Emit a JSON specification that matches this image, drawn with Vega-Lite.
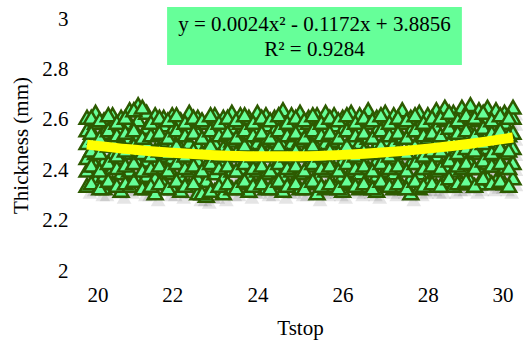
{
"$schema":"https://vega.github.io/schema/vega-lite/v6.json",
"width":426,"height":252,
"autosize":{"type":"none"},
"padding":{"left":87,"top":19,"right":10,"bottom":74},
"background":"white",
"config":{"view":{"stroke":null},"font":"Liberation Serif",
"axis":{"domain":false,"ticks":false,"tickSize":0,"grid":false,"labelFont":"Liberation Serif","titleFont":"Liberation Serif","labelFontSize":21,"titleFontSize":21,"labelColor":"#000","titleColor":"#000","titleFontWeight":"normal"},
"axisX":{"labelFont":"Liberation Serif","titleFont":"Liberation Serif"},
"axisY":{"labelFont":"Liberation Serif","titleFont":"Liberation Serif"}},
"datasets":{
"pts":[
{"x":20.0,"y":2.34},{"x":20.0,"y":2.40},{"x":20.0,"y":2.45},{"x":20.0,"y":2.51},{"x":20.0,"y":2.56},{"x":20.0,"y":2.61},
{"x":20.2,"y":2.36},{"x":20.2,"y":2.42},{"x":20.2,"y":2.47},{"x":20.2,"y":2.53},{"x":20.2,"y":2.59},{"x":20.2,"y":2.63},
{"x":20.4,"y":2.33},{"x":20.4,"y":2.38},{"x":20.4,"y":2.44},{"x":20.4,"y":2.50},{"x":20.4,"y":2.55},{"x":20.4,"y":2.60},
{"x":20.6,"y":2.35},{"x":20.6,"y":2.41},{"x":20.6,"y":2.46},{"x":20.6,"y":2.52},{"x":20.6,"y":2.58},{"x":20.6,"y":2.62},
{"x":20.8,"y":2.32},{"x":20.8,"y":2.39},{"x":20.8,"y":2.45},{"x":20.8,"y":2.49},{"x":20.8,"y":2.57},{"x":20.8,"y":2.61},
{"x":21.0,"y":2.34},{"x":21.0,"y":2.40},{"x":21.0,"y":2.47},{"x":21.0,"y":2.53},{"x":21.0,"y":2.59},{"x":21.0,"y":2.64},
{"x":21.2,"y":2.36},{"x":21.2,"y":2.43},{"x":21.2,"y":2.48},{"x":21.2,"y":2.54},{"x":21.2,"y":2.60},{"x":21.2,"y":2.66},
{"x":21.4,"y":2.33},{"x":21.4,"y":2.38},{"x":21.4,"y":2.44},{"x":21.4,"y":2.51},{"x":21.4,"y":2.57},{"x":21.4,"y":2.63},
{"x":21.6,"y":2.31},{"x":21.6,"y":2.37},{"x":21.6,"y":2.42},{"x":21.6,"y":2.48},{"x":21.6,"y":2.55},{"x":21.6,"y":2.62},
{"x":21.8,"y":2.35},{"x":21.8,"y":2.41},{"x":21.8,"y":2.46},{"x":21.8,"y":2.52},{"x":21.8,"y":2.58},{"x":21.8,"y":2.61},
{"x":22.0,"y":2.33},{"x":22.0,"y":2.39},{"x":22.0,"y":2.45},{"x":22.0,"y":2.50},{"x":22.0,"y":2.56},{"x":22.0,"y":2.62},
{"x":22.2,"y":2.32},{"x":22.2,"y":2.38},{"x":22.2,"y":2.43},{"x":22.2,"y":2.49},{"x":22.2,"y":2.54},{"x":22.2,"y":2.60},
{"x":22.4,"y":2.34},{"x":22.4,"y":2.40},{"x":22.4,"y":2.46},{"x":22.4,"y":2.51},{"x":22.4,"y":2.57},{"x":22.4,"y":2.63},
{"x":22.6,"y":2.31},{"x":22.6,"y":2.37},{"x":22.6,"y":2.44},{"x":22.6,"y":2.50},{"x":22.6,"y":2.55},{"x":22.6,"y":2.61},
{"x":22.8,"y":2.30},{"x":22.8,"y":2.36},{"x":22.8,"y":2.42},{"x":22.8,"y":2.48},{"x":22.8,"y":2.53},{"x":22.8,"y":2.59},
{"x":23.0,"y":2.32},{"x":23.0,"y":2.39},{"x":23.0,"y":2.45},{"x":23.0,"y":2.51},{"x":23.0,"y":2.58},{"x":23.0,"y":2.62},
{"x":23.2,"y":2.31},{"x":23.2,"y":2.37},{"x":23.2,"y":2.43},{"x":23.2,"y":2.49},{"x":23.2,"y":2.56},{"x":23.2,"y":2.61},
{"x":23.4,"y":2.33},{"x":23.4,"y":2.40},{"x":23.4,"y":2.46},{"x":23.4,"y":2.52},{"x":23.4,"y":2.57},{"x":23.4,"y":2.63},
{"x":23.6,"y":2.35},{"x":23.6,"y":2.41},{"x":23.6,"y":2.47},{"x":23.6,"y":2.53},{"x":23.6,"y":2.59},{"x":23.6,"y":2.62},
{"x":23.8,"y":2.32},{"x":23.8,"y":2.38},{"x":23.8,"y":2.44},{"x":23.8,"y":2.50},{"x":23.8,"y":2.55},{"x":23.8,"y":2.61},
{"x":24.0,"y":2.34},{"x":24.0,"y":2.40},{"x":24.0,"y":2.45},{"x":24.0,"y":2.51},{"x":24.0,"y":2.57},{"x":24.0,"y":2.63},
{"x":24.2,"y":2.33},{"x":24.2,"y":2.39},{"x":24.2,"y":2.46},{"x":24.2,"y":2.52},{"x":24.2,"y":2.58},{"x":24.2,"y":2.62},
{"x":24.4,"y":2.35},{"x":24.4,"y":2.41},{"x":24.4,"y":2.47},{"x":24.4,"y":2.52},{"x":24.4,"y":2.56},{"x":24.4,"y":2.61},
{"x":24.6,"y":2.32},{"x":24.6,"y":2.38},{"x":24.6,"y":2.44},{"x":24.6,"y":2.50},{"x":24.6,"y":2.57},{"x":24.6,"y":2.64},
{"x":24.8,"y":2.34},{"x":24.8,"y":2.40},{"x":24.8,"y":2.45},{"x":24.8,"y":2.51},{"x":24.8,"y":2.58},{"x":24.8,"y":2.62},
{"x":25.0,"y":2.33},{"x":25.0,"y":2.39},{"x":25.0,"y":2.46},{"x":25.0,"y":2.52},{"x":25.0,"y":2.57},{"x":25.0,"y":2.63},
{"x":25.2,"y":2.35},{"x":25.2,"y":2.42},{"x":25.2,"y":2.47},{"x":25.2,"y":2.53},{"x":25.2,"y":2.59},{"x":25.2,"y":2.61},
{"x":25.4,"y":2.31},{"x":25.4,"y":2.37},{"x":25.4,"y":2.43},{"x":25.4,"y":2.49},{"x":25.4,"y":2.55},{"x":25.4,"y":2.62},
{"x":25.6,"y":2.33},{"x":25.6,"y":2.40},{"x":25.6,"y":2.45},{"x":25.6,"y":2.51},{"x":25.6,"y":2.57},{"x":25.6,"y":2.63},
{"x":25.8,"y":2.34},{"x":25.8,"y":2.41},{"x":25.8,"y":2.47},{"x":25.8,"y":2.52},{"x":25.8,"y":2.58},{"x":25.8,"y":2.62},
{"x":26.0,"y":2.32},{"x":26.0,"y":2.38},{"x":26.0,"y":2.44},{"x":26.0,"y":2.50},{"x":26.0,"y":2.56},{"x":26.0,"y":2.61},
{"x":26.2,"y":2.35},{"x":26.2,"y":2.40},{"x":26.2,"y":2.46},{"x":26.2,"y":2.52},{"x":26.2,"y":2.58},{"x":26.2,"y":2.63},
{"x":26.4,"y":2.33},{"x":26.4,"y":2.39},{"x":26.4,"y":2.45},{"x":26.4,"y":2.51},{"x":26.4,"y":2.57},{"x":26.4,"y":2.62},
{"x":26.6,"y":2.34},{"x":26.6,"y":2.41},{"x":26.6,"y":2.47},{"x":26.6,"y":2.53},{"x":26.6,"y":2.59},{"x":26.6,"y":2.64},
{"x":26.8,"y":2.32},{"x":26.8,"y":2.38},{"x":26.8,"y":2.44},{"x":26.8,"y":2.50},{"x":26.8,"y":2.56},{"x":26.8,"y":2.61},
{"x":27.0,"y":2.35},{"x":27.0,"y":2.40},{"x":27.0,"y":2.46},{"x":27.0,"y":2.52},{"x":27.0,"y":2.58},{"x":27.0,"y":2.63},
{"x":27.2,"y":2.33},{"x":27.2,"y":2.39},{"x":27.2,"y":2.45},{"x":27.2,"y":2.51},{"x":27.2,"y":2.57},{"x":27.2,"y":2.62},
{"x":27.4,"y":2.34},{"x":27.4,"y":2.41},{"x":27.4,"y":2.47},{"x":27.4,"y":2.53},{"x":27.4,"y":2.59},{"x":27.4,"y":2.64},
{"x":27.6,"y":2.31},{"x":27.6,"y":2.37},{"x":27.6,"y":2.43},{"x":27.6,"y":2.50},{"x":27.6,"y":2.56},{"x":27.6,"y":2.61},
{"x":27.8,"y":2.33},{"x":27.8,"y":2.39},{"x":27.8,"y":2.46},{"x":27.8,"y":2.52},{"x":27.8,"y":2.58},{"x":27.8,"y":2.63},
{"x":28.0,"y":2.35},{"x":28.0,"y":2.41},{"x":28.0,"y":2.47},{"x":28.0,"y":2.53},{"x":28.0,"y":2.59},{"x":28.0,"y":2.62},
{"x":28.2,"y":2.34},{"x":28.2,"y":2.40},{"x":28.2,"y":2.46},{"x":28.2,"y":2.51},{"x":28.2,"y":2.57},{"x":28.2,"y":2.64},
{"x":28.4,"y":2.36},{"x":28.4,"y":2.42},{"x":28.4,"y":2.48},{"x":28.4,"y":2.54},{"x":28.4,"y":2.60},{"x":28.4,"y":2.65},
{"x":28.6,"y":2.34},{"x":28.6,"y":2.40},{"x":28.6,"y":2.46},{"x":28.6,"y":2.52},{"x":28.6,"y":2.58},{"x":28.6,"y":2.63},
{"x":28.8,"y":2.35},{"x":28.8,"y":2.41},{"x":28.8,"y":2.47},{"x":28.8,"y":2.53},{"x":28.8,"y":2.59},{"x":28.8,"y":2.65},
{"x":29.0,"y":2.36},{"x":29.0,"y":2.43},{"x":29.0,"y":2.49},{"x":29.0,"y":2.55},{"x":29.0,"y":2.61},{"x":29.0,"y":2.66},
{"x":29.2,"y":2.35},{"x":29.2,"y":2.41},{"x":29.2,"y":2.47},{"x":29.2,"y":2.53},{"x":29.2,"y":2.60},{"x":29.2,"y":2.64},
{"x":29.4,"y":2.37},{"x":29.4,"y":2.43},{"x":29.4,"y":2.49},{"x":29.4,"y":2.55},{"x":29.4,"y":2.61},{"x":29.4,"y":2.65},
{"x":29.6,"y":2.36},{"x":29.6,"y":2.42},{"x":29.6,"y":2.48},{"x":29.6,"y":2.54},{"x":29.6,"y":2.60},{"x":29.6,"y":2.64},
{"x":29.8,"y":2.35},{"x":29.8,"y":2.41},{"x":29.8,"y":2.47},{"x":29.8,"y":2.53},{"x":29.8,"y":2.59},{"x":29.8,"y":2.63},
{"x":30.0,"y":2.37},{"x":30.0,"y":2.43},{"x":30.0,"y":2.49},{"x":30.0,"y":2.55},{"x":30.0,"y":2.61},{"x":30.0,"y":2.65},
{"x":20.1,"y":2.35},{"x":20.1,"y":2.42},{"x":20.1,"y":2.48},{"x":20.1,"y":2.55},{"x":20.1,"y":2.61},
{"x":20.3,"y":2.33},{"x":20.3,"y":2.40},{"x":20.3,"y":2.47},{"x":20.3,"y":2.53},{"x":20.3,"y":2.60},
{"x":20.5,"y":2.36},{"x":20.5,"y":2.43},{"x":20.5,"y":2.50},{"x":20.5,"y":2.56},{"x":20.5,"y":2.62},
{"x":20.7,"y":2.34},{"x":20.7,"y":2.41},{"x":20.7,"y":2.46},{"x":20.7,"y":2.54},{"x":20.7,"y":2.59},
{"x":20.9,"y":2.35},{"x":20.9,"y":2.42},{"x":20.9,"y":2.48},{"x":20.9,"y":2.55},{"x":20.9,"y":2.61},
{"x":21.1,"y":2.36},{"x":21.1,"y":2.43},{"x":21.1,"y":2.50},{"x":21.1,"y":2.56},{"x":21.1,"y":2.64},
{"x":21.3,"y":2.33},{"x":21.3,"y":2.40},{"x":21.3,"y":2.47},{"x":21.3,"y":2.53},{"x":21.3,"y":2.65},
{"x":21.5,"y":2.34},{"x":21.5,"y":2.41},{"x":21.5,"y":2.46},{"x":21.5,"y":2.54},{"x":21.5,"y":2.59},
{"x":21.7,"y":2.35},{"x":21.7,"y":2.42},{"x":21.7,"y":2.48},{"x":21.7,"y":2.55},{"x":21.7,"y":2.61},
{"x":21.9,"y":2.33},{"x":21.9,"y":2.40},{"x":21.9,"y":2.47},{"x":21.9,"y":2.53},{"x":21.9,"y":2.60},
{"x":22.1,"y":2.36},{"x":22.1,"y":2.43},{"x":22.1,"y":2.50},{"x":22.1,"y":2.56},{"x":22.1,"y":2.62},
{"x":22.3,"y":2.34},{"x":22.3,"y":2.41},{"x":22.3,"y":2.46},{"x":22.3,"y":2.54},{"x":22.3,"y":2.59},
{"x":22.5,"y":2.35},{"x":22.5,"y":2.42},{"x":22.5,"y":2.48},{"x":22.5,"y":2.55},{"x":22.5,"y":2.61},
{"x":22.7,"y":2.31},{"x":22.7,"y":2.40},{"x":22.7,"y":2.47},{"x":22.7,"y":2.53},{"x":22.7,"y":2.60},
{"x":22.9,"y":2.32},{"x":22.9,"y":2.43},{"x":22.9,"y":2.50},{"x":22.9,"y":2.56},{"x":22.9,"y":2.62},
{"x":23.1,"y":2.34},{"x":23.1,"y":2.41},{"x":23.1,"y":2.46},{"x":23.1,"y":2.54},{"x":23.1,"y":2.59},
{"x":23.3,"y":2.35},{"x":23.3,"y":2.42},{"x":23.3,"y":2.48},{"x":23.3,"y":2.55},{"x":23.3,"y":2.61},
{"x":23.5,"y":2.33},{"x":23.5,"y":2.40},{"x":23.5,"y":2.47},{"x":23.5,"y":2.53},{"x":23.5,"y":2.60},
{"x":23.7,"y":2.36},{"x":23.7,"y":2.43},{"x":23.7,"y":2.50},{"x":23.7,"y":2.56},{"x":23.7,"y":2.62},
{"x":23.9,"y":2.34},{"x":23.9,"y":2.41},{"x":23.9,"y":2.46},{"x":23.9,"y":2.54},{"x":23.9,"y":2.59},
{"x":24.1,"y":2.35},{"x":24.1,"y":2.42},{"x":24.1,"y":2.48},{"x":24.1,"y":2.55},{"x":24.1,"y":2.61},
{"x":24.3,"y":2.33},{"x":24.3,"y":2.40},{"x":24.3,"y":2.47},{"x":24.3,"y":2.53},{"x":24.3,"y":2.60},
{"x":24.5,"y":2.36},{"x":24.5,"y":2.43},{"x":24.5,"y":2.50},{"x":24.5,"y":2.56},{"x":24.5,"y":2.62},
{"x":24.7,"y":2.34},{"x":24.7,"y":2.41},{"x":24.7,"y":2.46},{"x":24.7,"y":2.54},{"x":24.7,"y":2.59},
{"x":24.9,"y":2.35},{"x":24.9,"y":2.42},{"x":24.9,"y":2.48},{"x":24.9,"y":2.55},{"x":24.9,"y":2.61},
{"x":25.1,"y":2.33},{"x":25.1,"y":2.40},{"x":25.1,"y":2.47},{"x":25.1,"y":2.53},{"x":25.1,"y":2.60},
{"x":25.3,"y":2.36},{"x":25.3,"y":2.43},{"x":25.3,"y":2.50},{"x":25.3,"y":2.56},{"x":25.3,"y":2.62},
{"x":25.5,"y":2.34},{"x":25.5,"y":2.41},{"x":25.5,"y":2.46},{"x":25.5,"y":2.54},{"x":25.5,"y":2.59},
{"x":25.7,"y":2.35},{"x":25.7,"y":2.42},{"x":25.7,"y":2.48},{"x":25.7,"y":2.55},{"x":25.7,"y":2.61},
{"x":25.9,"y":2.33},{"x":25.9,"y":2.40},{"x":25.9,"y":2.47},{"x":25.9,"y":2.53},{"x":25.9,"y":2.60},
{"x":26.1,"y":2.36},{"x":26.1,"y":2.43},{"x":26.1,"y":2.50},{"x":26.1,"y":2.56},{"x":26.1,"y":2.62},
{"x":26.3,"y":2.34},{"x":26.3,"y":2.41},{"x":26.3,"y":2.46},{"x":26.3,"y":2.54},{"x":26.3,"y":2.59},
{"x":26.5,"y":2.35},{"x":26.5,"y":2.42},{"x":26.5,"y":2.48},{"x":26.5,"y":2.55},{"x":26.5,"y":2.61},
{"x":26.7,"y":2.33},{"x":26.7,"y":2.40},{"x":26.7,"y":2.47},{"x":26.7,"y":2.53},{"x":26.7,"y":2.60},
{"x":26.9,"y":2.36},{"x":26.9,"y":2.43},{"x":26.9,"y":2.50},{"x":26.9,"y":2.56},{"x":26.9,"y":2.62},
{"x":27.1,"y":2.34},{"x":27.1,"y":2.41},{"x":27.1,"y":2.46},{"x":27.1,"y":2.54},{"x":27.1,"y":2.59},
{"x":27.3,"y":2.35},{"x":27.3,"y":2.42},{"x":27.3,"y":2.48},{"x":27.3,"y":2.55},{"x":27.3,"y":2.61},
{"x":27.5,"y":2.33},{"x":27.5,"y":2.40},{"x":27.5,"y":2.47},{"x":27.5,"y":2.53},{"x":27.5,"y":2.60},
{"x":27.7,"y":2.36},{"x":27.7,"y":2.43},{"x":27.7,"y":2.50},{"x":27.7,"y":2.56},{"x":27.7,"y":2.62},
{"x":27.9,"y":2.34},{"x":27.9,"y":2.41},{"x":27.9,"y":2.46},{"x":27.9,"y":2.54},{"x":27.9,"y":2.59},
{"x":28.1,"y":2.35},{"x":28.1,"y":2.42},{"x":28.1,"y":2.48},{"x":28.1,"y":2.55},{"x":28.1,"y":2.61},
{"x":28.3,"y":2.34},{"x":28.3,"y":2.41},{"x":28.3,"y":2.48},{"x":28.3,"y":2.54},{"x":28.3,"y":2.61},
{"x":28.5,"y":2.37},{"x":28.5,"y":2.44},{"x":28.5,"y":2.51},{"x":28.5,"y":2.57},{"x":28.5,"y":2.63},
{"x":28.7,"y":2.35},{"x":28.7,"y":2.42},{"x":28.7,"y":2.47},{"x":28.7,"y":2.55},{"x":28.7,"y":2.60},
{"x":28.9,"y":2.36},{"x":28.9,"y":2.43},{"x":28.9,"y":2.49},{"x":28.9,"y":2.56},{"x":28.9,"y":2.62},
{"x":29.1,"y":2.34},{"x":29.1,"y":2.41},{"x":29.1,"y":2.48},{"x":29.1,"y":2.54},{"x":29.1,"y":2.61},
{"x":29.3,"y":2.37},{"x":29.3,"y":2.44},{"x":29.3,"y":2.51},{"x":29.3,"y":2.57},{"x":29.3,"y":2.63},
{"x":29.5,"y":2.35},{"x":29.5,"y":2.42},{"x":29.5,"y":2.47},{"x":29.5,"y":2.55},{"x":29.5,"y":2.60},
{"x":29.7,"y":2.36},{"x":29.7,"y":2.43},{"x":29.7,"y":2.49},{"x":29.7,"y":2.56},{"x":29.7,"y":2.62},
{"x":29.9,"y":2.34},{"x":29.9,"y":2.41},{"x":29.9,"y":2.48},{"x":29.9,"y":2.54},{"x":29.9,"y":2.61}
],
"trend":[
{"x":20,"y":2.5016},{"x":21,"y":2.4828},{"x":22,"y":2.4688},{"x":23,"y":2.4596},{"x":24,"y":2.4552},{"x":25,"y":2.4556},{"x":26,"y":2.4608},{"x":27,"y":2.4708},{"x":28,"y":2.4856},{"x":29,"y":2.5052},{"x":30,"y":2.5296}
],
"box":[{"x1":21.88,"x2":28.8,"y1":2.817,"y2":3.048}],
"eq":[{"x":25.34,"y":2.976,"t":"y = 0.0024x² - 0.1172x + 3.8856"},{"x":25.34,"y":2.877,"t":"R² = 0.9284"}]
},
"layer":[
{"data":{"name":"pts"},"mark":{"type":"point","shape":"triangle-up","size":220,"filled":true,"color":"#000","opacity":0.1,"xOffset":3,"yOffset":7},
 "encoding":{"x":{"field":"x","type":"quantitative","scale":{"domain":[20,30],"nice":false},"axis":{"values":[20,22,24,26,28,30],"labelPadding":13,"title":"Tstop","titlePadding":12,"labelFont":"Liberation Serif","titleFont":"Liberation Serif","labelFontSize":21,"titleFontSize":21}},
 "y":{"field":"y","type":"quantitative","scale":{"domain":[2,3],"nice":false},"axis":{"values":[2,2.2,2.4,2.6,2.8,3],"format":"~g","labelPadding":19,"title":"Thickness (mm)","titlePadding":10,"labelFont":"Liberation Serif","titleFont":"Liberation Serif","labelFontSize":21,"titleFontSize":21}}}},
{"data":{"name":"pts"},"mark":{"type":"point","shape":"triangle-up","size":220,"filled":true,"fill":"#66ff99","stroke":"#2d5a00","strokeWidth":2.5,"opacity":1},
 "encoding":{"x":{"field":"x","type":"quantitative"},"y":{"field":"y","type":"quantitative"}}},
{"data":{"name":"trend"},"mark":{"type":"line","color":"#ffff00","strokeWidth":10,"interpolate":"monotone"},
 "encoding":{"x":{"field":"x","type":"quantitative"},"y":{"field":"y","type":"quantitative"}}},
{"data":{"name":"box"},"mark":{"type":"rect","color":"#66ff99"},
 "encoding":{"x":{"field":"x1","type":"quantitative"},"x2":{"field":"x2"},"y":{"field":"y1","type":"quantitative"},"y2":{"field":"y2"}}},
{"data":{"name":"eq"},"mark":{"type":"text","font":"Liberation Serif","fontSize":21,"color":"#000","align":"center","baseline":"middle"},
 "encoding":{"x":{"field":"x","type":"quantitative"},"y":{"field":"y","type":"quantitative"},"text":{"field":"t"}}}
]
}
